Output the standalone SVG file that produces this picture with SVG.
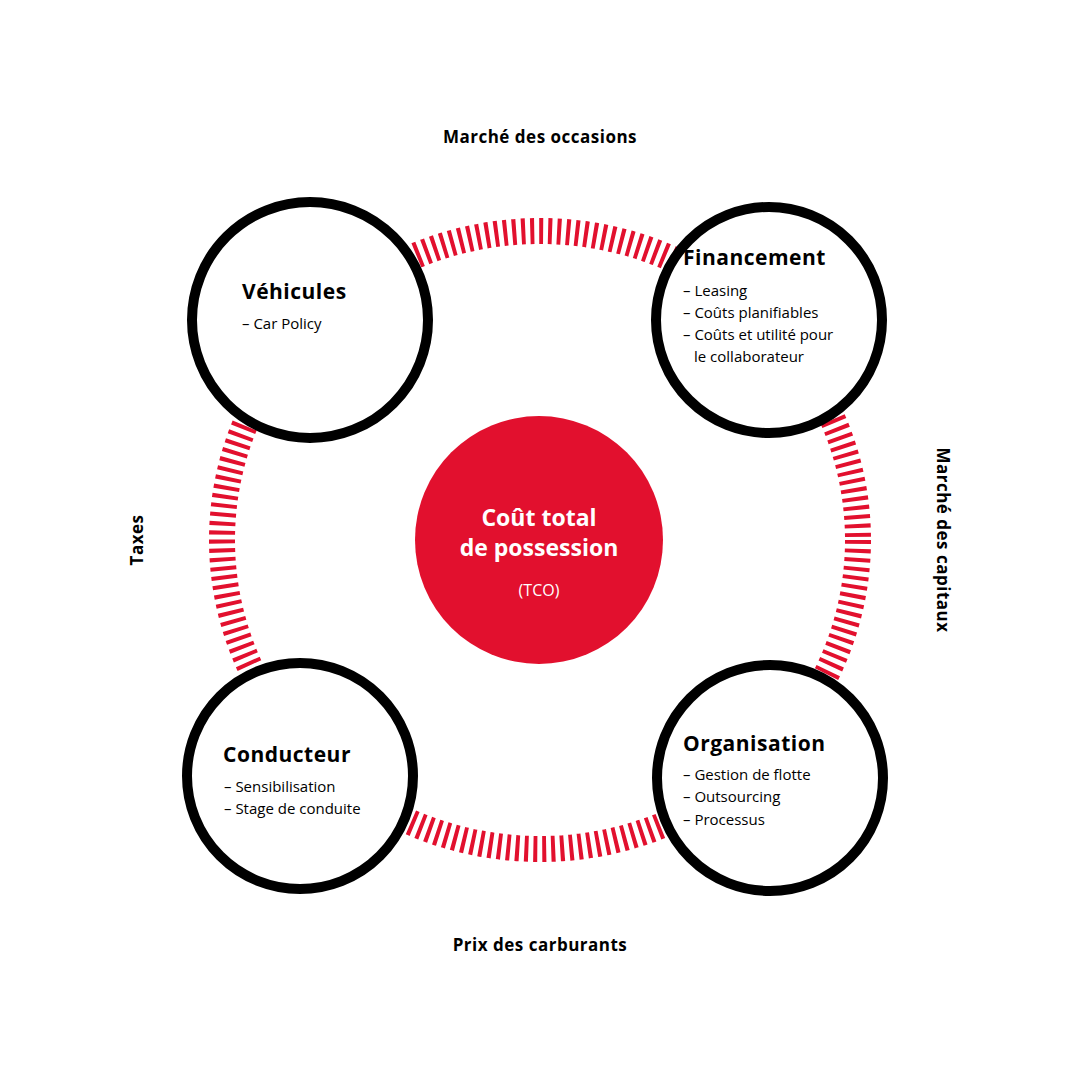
<svg xmlns="http://www.w3.org/2000/svg" width="1080" height="1080" viewBox="0 0 1080 1080">
<style>
.n{fill:#fff;stroke:#000;stroke-width:10}
.t{font-family:"Open Sans","Liberation Sans",sans-serif;fill:#000}
.h{font-size:21px;font-weight:700;letter-spacing:0.5px}
.s{font-size:15px}
.o{font-size:17px;font-weight:700;letter-spacing:0.5px}
.w{font-family:"Open Sans","Liberation Sans",sans-serif;fill:#fff;font-weight:700;text-anchor:middle}
</style>
<rect width="1080" height="1080" fill="#fff"/>
<g id="connectors">
<ellipse cx="540" cy="540" rx="318" ry="309" fill="none" stroke="#e2102e" stroke-width="26" stroke-dasharray="4 5"/>
</g>
<g id="center"><circle cx="539" cy="540" r="124" fill="#e2102e"/>
<text class="w" x="539" y="526" font-size="23">Coût total</text>
<text class="w" x="539" y="556" font-size="23">de possession</text>
<text x="539" y="596" font-family="Open Sans,Liberation Sans,sans-serif" font-size="16" fill="#fff" text-anchor="middle">(TCO)</text></g>
<g id="vehicules"><circle class="n" cx="310" cy="320" r="118"/>
<text class="t h" x="242" y="299">Véhicules</text><text class="t s" x="242" y="329">– Car Policy</text></g>
<g id="financement"><circle class="n" cx="769" cy="320" r="113"/>
<text class="t h" x="683" y="265">Financement</text>
<text class="t s" x="683" y="296">– Leasing</text><text class="t s" x="683" y="318">– Coûts planifiables</text>
<text class="t s" x="683" y="340">– Coûts et utilité pour</text><text class="t s" x="694" y="362">le collaborateur</text></g>
<g id="conducteur"><circle class="n" cx="300" cy="776" r="113"/>
<text class="t h" x="223" y="762">Conducteur</text>
<text class="t s" x="224" y="792">– Sensibilisation</text><text class="t s" x="224" y="814">– Stage de conduite</text></g>
<g id="organisation"><circle class="n" cx="770" cy="778" r="113"/>
<text class="t h" x="683" y="751">Organisation</text>
<text class="t s" x="683" y="780">– Gestion de flotte</text><text class="t s" x="683" y="802">– Outsourcing</text><text class="t s" x="683" y="825">– Processus</text></g>
<g id="labels">
<text class="t o" x="540" y="143" text-anchor="middle">Marché des occasions</text>
<text class="t o" x="540" y="951" text-anchor="middle">Prix des carburants</text>
<text class="t o" transform="translate(143,540) rotate(-90)" text-anchor="middle">Taxes</text>
<text class="t o" transform="translate(937,540) rotate(90)" text-anchor="middle">Marché des capitaux</text>
</g>
</svg>
